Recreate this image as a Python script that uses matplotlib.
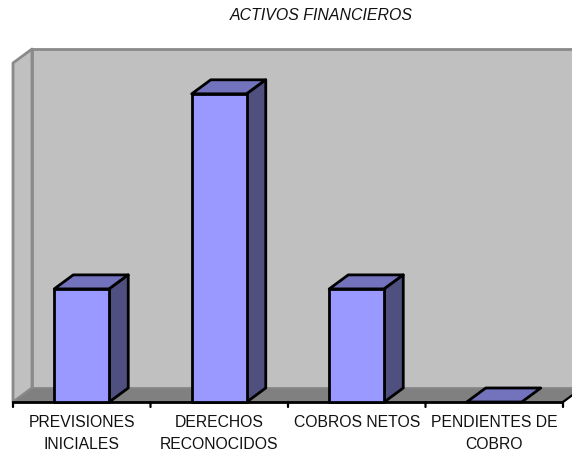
import matplotlib
matplotlib.use("Agg")
import matplotlib.pyplot as plt
from matplotlib.patches import Polygon

title = "ACTIVOS FINANCIEROS"
categories = ["PREVISIONES\nINICIALES", "DERECHOS\nRECONOCIDOS", "COBROS NETOS", "PENDIENTES DE\nCOBRO"]
values = [36.7, 100, 36.7, 0]

W, H = 572, 454
plt.rcParams['font.family'] = ['Liberation Sans', 'DejaVu Sans']

fig = plt.figure(figsize=(W / 100, H / 100), dpi=100)
# axes box is the front plane of the 3d chart
ax = fig.add_axes([13 / W, 1 - 402 / H, 550 / W, 339 / H])
ax.set_xlim(0, len(categories))
ax.set_ylim(0, 110)
ax.axis("off")

# depth of the 3d effect, in data units
dx = 19 / 137.5
dy = 14 / (339 / 110)
top = ax.get_ylim()[1]
n = len(categories)


def face(pts, fc, ec, lw, z):
    ax.add_patch(Polygon(pts, closed=True, facecolor=fc, edgecolor=ec, linewidth=lw,
                         joinstyle="round", clip_on=False, zorder=z))


# walls and floor
wall = "#c0c0c0"
edge = "#8a8a8a"
face([(0, 0), (dx, dy), (dx, top + dy), (0, top)], wall, edge, 2, 1)
face([(dx, dy), (n + dx, dy), (n + dx, top + dy), (dx, top + dy)], wall, edge, 2, 1)
face([(0, 0), (dx, dy), (n + dx, dy), (n, 0)], "#808080", "#8a8a8a", 1, 2)
ax.plot([n, n + dx], [0, dy], color="black", lw=1.6, clip_on=False, zorder=3)

# axis line and ticks
ax.plot([0, n], [0, 0], color="black", lw=2, clip_on=False, zorder=3, solid_capstyle="butt")
for i in range(n + 1):
    ax.annotate("", xy=(i, 0), xytext=(0, -5), textcoords="offset pixels",
                arrowprops=dict(arrowstyle="-", color="black", lw=1.6, shrinkA=0, shrinkB=0),
                annotation_clip=False, zorder=3)

# bars
bw = 0.4
for i, v in enumerate(values):
    l = i + 0.5 - bw / 2
    r = l + bw
    face([(l, v), (l + dx, v + dy), (r + dx, v + dy), (r, v)], "#7373bd", "black", 2, 5)
    if v > 0:
        face([(r, 0), (r + dx, dy), (r + dx, v + dy), (r, v)], "#4f4f80", "black", 2, 5)
        face([(l, 0), (r, 0), (r, v), (l, v)], "#9999ff", "black", 2, 6)

# category labels
for i, c in enumerate(categories):
    ax.annotate(c, xy=(i + 0.5, 0), xytext=(0, -13), textcoords="offset pixels",
                ha="center", va="top", fontsize=11.3, linespacing=1.62, color="#111111",
                annotation_clip=False)

fig.text(321 / W, 1 - 15 / H, title, ha="center", va="center", fontsize=11.4, style="italic", color="#111111")

fig.savefig("out.png", dpi=100)
